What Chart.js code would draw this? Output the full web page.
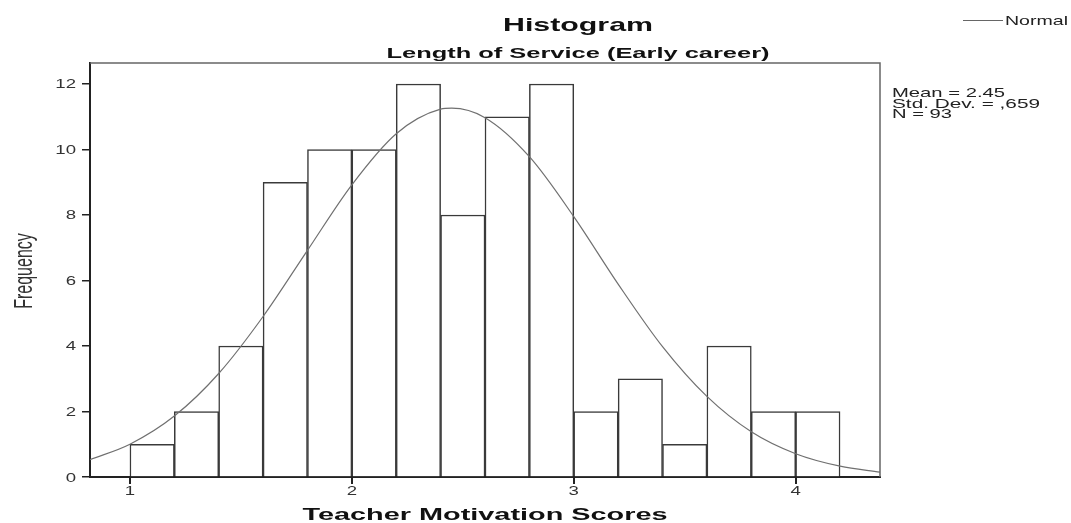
<!DOCTYPE html>
<html>
<head>
<meta charset="utf-8">
<script src="https://cdn.jsdelivr.net/npm/chart.js@4"></script>
<style>
    html, body { margin: 0; padding: 0; background: #fff; }
    #wrap { width: 1071px; height: 523px; }
</style>
</head>
<body>
<div id="wrap"><canvas id="histChart" width="1071" height="523"></canvas></div>
<script>
// Histogram bins (bin width 0.2), centres and counts
const binCenters = [1.1, 1.3, 1.5, 1.7, 1.9, 2.1, 2.3, 2.5, 2.7, 2.9, 3.1, 3.3, 3.5, 3.7, 3.9, 4.1];
const frequencies = [1, 2, 4, 9, 10, 10, 12, 8, 11, 12, 2, 3, 1, 4, 2, 2];

// Normal curve
const curveX = [0.82, 1.0, 1.2, 1.4, 1.6, 1.8, 2.0, 2.2, 2.4, 2.45, 2.6, 2.8, 3.0, 3.2, 3.4, 3.6, 3.8, 4.0, 4.2, 4.38];
const curveY = [0.53, 1.0, 1.86, 3.16, 4.9, 6.92, 8.92, 10.48, 11.23, 11.26, 10.97, 9.78, 7.95, 5.89, 3.98, 2.46, 1.38, 0.71, 0.33, 0.15];

// Axis ticks
const xTicks = [1, 2, 3, 4];
const yTicks = [0, 2, 4, 6, 8, 10, 12];

const statsLines = ['Mean = 2.45', 'Std. Dev. = ,659', 'N = 93'];

const FONT = "'Liberation Sans', Arial, sans-serif";
// the picture is stretched sideways, so text is drawn wider than the font
const STRETCH = 1.55;

// Draw text with a horizontal scale factor
function drawStretched(ctx, text, x, y, font, sx, align) {
    ctx.save();
    ctx.font = font;
    ctx.translate(x, y);
    ctx.scale(sx, 1);
    ctx.textAlign = align;
    ctx.textBaseline = 'alphabetic';
    ctx.fillText(text, 0, 0);
    ctx.restore();
}

// Same, but scaled to fit a measured width
function drawToWidth(ctx, text, x, y, font, width, align) {
    ctx.save();
    ctx.font = font;
    const w = ctx.measureText(text).width;
    ctx.restore();
    drawStretched(ctx, text, x, y, font, width / w, align);
}

const decorPlugin = {
    id: 'decor',
    afterDraw(chart) {
        const ctx = chart.ctx;
        const area = chart.chartArea;
        const xs = chart.scales.x;
        const ys = chart.scales.y;
        ctx.save();

        // top and right frame
        ctx.strokeStyle = '#666';
        ctx.lineWidth = 1.5;
        ctx.beginPath();
        ctx.moveTo(area.left, area.top);
        ctx.lineTo(area.right, area.top);
        ctx.lineTo(area.right, area.bottom);
        ctx.stroke();

        // tick labels
        ctx.fillStyle = '#333';
        yTicks.forEach(v => {
            drawStretched(ctx, String(v), area.left - 14, ys.getPixelForValue(v) + 4.5, '12px ' + FONT, STRETCH, 'right');
        });
        xTicks.forEach(v => {
            drawStretched(ctx, String(v), xs.getPixelForValue(v), area.bottom + 18, '12px ' + FONT, STRETCH, 'center');
        });

        ctx.fillStyle = '#111';
        drawToWidth(ctx, 'Histogram', 578, 31, 'bold 19px ' + FONT, 150, 'center');
        drawToWidth(ctx, 'Length of Service (Early career)', 578, 58, 'bold 15px ' + FONT, 383, 'center');
        drawToWidth(ctx, 'Teacher Motivation Scores', 485, 520, 'bold 17px ' + FONT, 365, 'center');

        // y axis title, rotated
        ctx.save();
        ctx.fillStyle = '#333';
        ctx.font = '16px ' + FONT;
        ctx.translate(32, 271);
        ctx.rotate(-Math.PI / 2);
        ctx.scale(1, 1.6);
        ctx.textAlign = 'center';
        ctx.fillText('Frequency', 0, 0);
        ctx.restore();

        // stats box
        ctx.fillStyle = '#222';
        const statWidths = [113, 148, 60];
        statsLines.forEach((s, i) => {
            drawToWidth(ctx, s, 892, 97 + i * 10.6, '13px ' + FONT, statWidths[i], 'left');
        });

        // legend
        ctx.strokeStyle = '#666';
        ctx.lineWidth = 1;
        ctx.beginPath();
        ctx.moveTo(963, 20.5);
        ctx.lineTo(1003, 20.5);
        ctx.stroke();
        ctx.fillStyle = '#222';
        drawToWidth(ctx, 'Normal', 1005, 25, '13px ' + FONT, 63, 'left');

        ctx.restore();
    }
};

function buildChart() {
    const ctx = document.getElementById('histChart').getContext('2d');

    new Chart(ctx, {
        type: 'bar',
        data: {
            datasets: [
                {
                    type: 'line',
                    label: 'Normal',
                    data: curveX.map((x, i) => ({ x: x, y: curveY[i] })),
                    borderColor: '#707070',
                    borderWidth: 1.2,
                    pointRadius: 0,
                    cubicInterpolationMode: 'monotone',
                    fill: false,
                    order: 0
                },
                {
                    type: 'bar',
                    label: 'Frequency',
                    data: binCenters.map((x, i) => ({ x: x, y: frequencies[i] })),
                    backgroundColor: '#ffffff',
                    borderColor: '#3a3a3a',
                    borderWidth: 1.5,
                    barPercentage: 1,
                    categoryPercentage: 1,
                    order: 1
                }
            ]
        },
        options: {
            responsive: false,
            animation: false,
            layout: {
                padding: { left: 0, top: 63, right: 191, bottom: 0 }
            },
            plugins: {
                legend: { display: false },
                tooltip: { enabled: false },
                title: { display: false }
            },
            scales: {
                x: {
                    type: 'linear',
                    min: 0.82,
                    max: 4.38,
                    offset: false,
                    afterBuildTicks: scale => {
                        scale.ticks = xTicks.map(v => ({ value: v }));
                    },
                    afterFit: scale => { scale.height = 46; },
                    ticks: { display: false },
                    grid: {
                        offset: false,
                        drawOnChartArea: false,
                        drawTicks: true,
                        tickLength: 7,
                        color: '#222',
                        lineWidth: 2
                    },
                    border: { display: true, color: '#222', width: 2 }
                },
                y: {
                    min: 0,
                    max: 12.64,
                    afterBuildTicks: scale => {
                        scale.ticks = yTicks.map(v => ({ value: v }));
                    },
                    afterFit: scale => { scale.width = 90; },
                    ticks: { display: false },
                    grid: {
                        drawOnChartArea: false,
                        drawTicks: true,
                        tickLength: 8,
                        color: '#222',
                        lineWidth: 1.5
                    },
                    border: { display: true, color: '#222', width: 2 }
                }
            }
        },
        plugins: [decorPlugin]
    });
}

buildChart();
</script>
</body>
</html>
